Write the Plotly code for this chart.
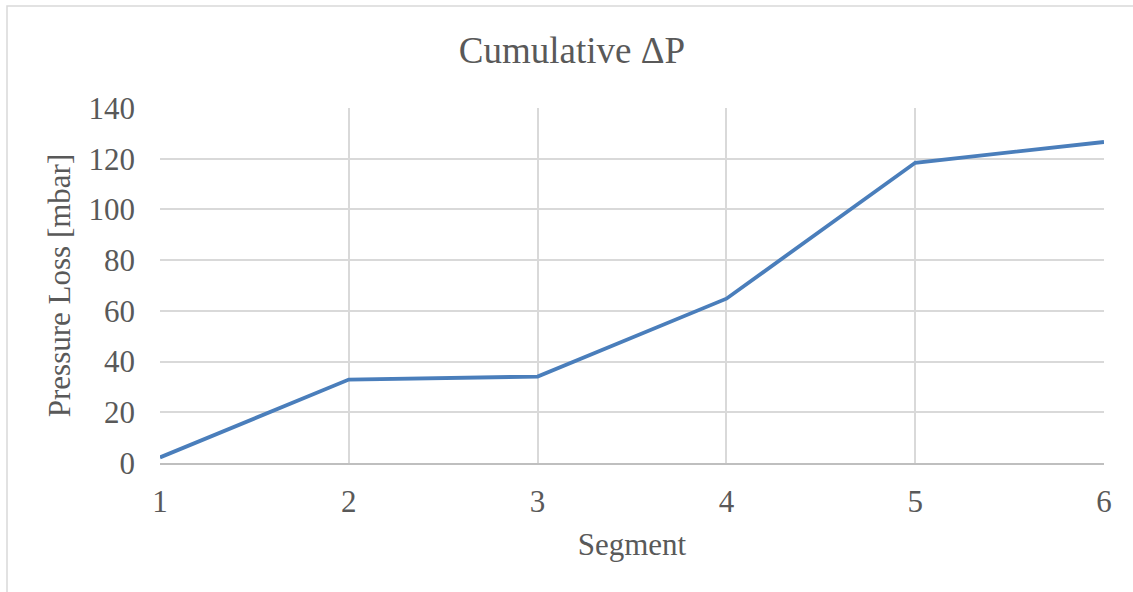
import plotly.graph_objects as go

# Cumulative pressure loss along the pipe segments
segments = [1, 2, 3, 4, 5, 6]
pressure_loss_mbar = [2.2, 32.9, 34.1, 64.8, 118.4, 126.6]
y_ticks = [0, 20, 40, 60, 80, 100, 120, 140]

W, H = 1133, 592
L, R, T, B = 160, 29, 108, 129
TEXT = "#595959"
GRID = "#d9d9d9"
FONT = "Liberation Serif"

fig = go.Figure(
    go.Scatter(
        x=segments,
        y=pressure_loss_mbar,
        mode="lines",
        line=dict(color="#4a7ebb", width=3.8),
        hoverinfo="x+y",
    )
)

fig.update_layout(
    width=W,
    height=H,
    margin=dict(l=L, r=R, t=T, b=B),
    paper_bgcolor="white",
    plot_bgcolor="white",
    showlegend=False,
    font=dict(family=FONT, color=TEXT, size=31),
    title=dict(
        text="Cumulative ΔP",
        font=dict(family=FONT, color=TEXT, size=37),
        xref="container",
        yref="container",
        x=572 / W,
        y=1 - 50 / H,
        xanchor="center",
        yanchor="middle",
    ),
)

fig.update_xaxes(
    range=[1, 6],
    tickvals=segments,
    showgrid=True,
    gridcolor=GRID,
    gridwidth=1.5,
    zeroline=False,
    showline=True,
    linecolor="#bfbfbf",
    linewidth=1.5,
    ticks="",
    ticklabelstandoff=10,
    tickfont=dict(family=FONT, color=TEXT, size=31),
    title=dict(text="Segment", font=dict(family=FONT, color=TEXT, size=31), standoff=15),
)

fig.update_yaxes(
    range=[0, 140],
    tickvals=y_ticks,
    showgrid=True,
    gridcolor=GRID,
    gridwidth=1.5,
    zeroline=False,
    showline=False,
    ticks="",
    ticklabelstandoff=24,
    tickfont=dict(family=FONT, color=TEXT, size=31),
    title=dict(text="Pressure Loss [mbar]", font=dict(family=FONT, color=TEXT, size=31), standoff=8),
)

# Thin frame around the whole chart area
fig.add_shape(
    type="rect",
    xref="paper",
    yref="paper",
    x0=(7 - L) / (W - L - R),
    x1=(W + 10 - L) / (W - L - R),
    y0=-(B + 10) / (H - T - B),
    y1=(H - B - 6) / (H - T - B),
    line=dict(color=GRID, width=1.5),
    fillcolor="rgba(0,0,0,0)",
    layer="below",
)

fig.write_html("out.html")
